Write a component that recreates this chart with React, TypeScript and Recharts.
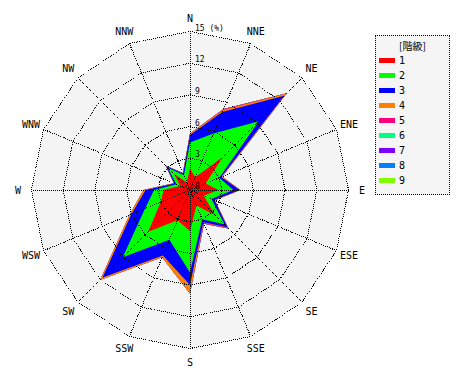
import { Legend, PolarAngleAxis, PolarGrid, PolarRadiusAxis, Radar, RadarChart } from "recharts";

// 16 wind directions, clockwise from north
const directions = ["N", "NNE", "NE", "ENE", "E", "ESE", "SE", "SSE", "S", "SSW", "SW", "WSW", "W", "WNW", "NW", "NNW"];

// frequency (%) per class and direction
const class1 = [2.0, 1.3, 4.4, 1.6, 2.7, 1.4, 3.4, 1.6, 3.9, 3.1, 5.6, 3.0, 2.5, 1.0, 2.1, 0.8];
const class2 = [2.5, 4.5, 4.8, 1.4, 1.4, 0.8, 1.2, 1.4, 3.9, 2.0, 3.4, 1.6, 0.9, 0.4, 0.9, 0.7];
const class3 = [0.7, 2.2, 3.4, 0.2, 0.6, 0.3, 0.4, 0.3, 1.2, 1.6, 2.7, 1.4, 0.8, 0.2, 0.2, 0.2];
const class4 = [0.15, 0.2, 0.3, 0.1, 0.05, 0.05, 0.05, 0.05, 0.8, 0.2, 0.3, 0.2, 0.2, 0.05, 0.05, 0.05];
const class5 = [0, 0.1, 0.05, 0, 0, 0, 0.1, 0.1, 0, 0, 0, 0, 0, 0, 0, 0];
const class6 = [0, 0, 0, 0, 0, 0, 0, 0, 0, 0, 0, 0, 0, 0, 0, 0];
const class7 = [0, 0, 0, 0, 0, 0, 0, 0, 0, 0, 0, 0, 0, 0, 0, 0];
const class8 = [0, 0, 0, 0, 0, 0, 0, 0, 0, 0, 0, 0, 0, 0, 0, 0];
const class9 = [0, 0, 0, 0, 0, 0, 0, 0, 0, 0, 0, 0, 0, 0, 0, 0];

const classLabels = ["1", "2", "3", "4", "5", "6", "7", "8", "9"];
const radiusTicks = [0, 3, 6, 9, 12, 15];

const classValues = [class1, class2, class3, class4, class5, class6, class7, class8, class9];
const classColors = ["#ff0000", "#00ff00", "#0000ff", "#ff8000", "#ff0080", "#00ff80", "#8000ff", "#0080ff", "#80ff00"];

const maxValue = radiusTicks[radiusTicks.length - 1];

// cumulative (stacked) rose
const data = directions.map((dir, i) => {
  const row: Record<string, string | number> = { dir, bg: maxValue };
  let sum = 0;
  classValues.forEach((vals, k) => {
    sum += vals[i];
    row["c" + (k + 1)] = +sum.toFixed(2);
  });
  return row;
});

const labelFont = "'DejaVu Sans Mono', 'Liberation Mono', monospace";
const W = 470;
const H = 380;
const CX = 190;
const CY = 190;
const R = 158.5;

function AngleTick(props: any) {
  const { cx, cy, radius, payload } = props;
  const rad = (-payload.coordinate * Math.PI) / 180;
  const r = radius + 13.5;
  const x = cx + r * Math.cos(rad);
  const y = cy + r * Math.sin(rad);
  return (
    <text x={x} y={y} textAnchor="middle" dominantBaseline="central" fontFamily={labelFont} fontSize={10} fill="#000">
      {payload.value}
    </text>
  );
}

function RadiusTick(props: any) {
  const { x, y, payload } = props;
  const text = payload.value === maxValue ? `${payload.value} (%)` : String(payload.value);
  return (
    <text x={x + 5} y={y - 1} fontFamily={labelFont} fontSize={8} fill="#000">
      {text}
    </text>
  );
}

function ClassLegend() {
  return (
    <div
      style={{
        width: 73,
        height: 158,
        border: "1px dotted #000",
        background: "#f5f5f5",
        fontFamily: labelFont,
        fontSize: 10,
        color: "#000",
        position: "relative",
      }}
    >
      <div style={{ position: "absolute", top: 2, left: 0, width: 73, textAlign: "center", fontFamily: "'Noto Sans CJK JP'", fontSize: 10 }}>
        [階級]
      </div>
      {classLabels.map((label, i) => (
        <div key={label} style={{ position: "absolute", left: 3, top: 17 + i * 15, height: 14, display: "flex", alignItems: "center" }}>
          <span style={{ display: "inline-block", width: 16, height: 5, background: classColors[i], marginRight: 4 }} />
          <span>{label}</span>
        </div>
      ))}
    </div>
  );
}

export default function App() {
  return (
    <div style={{ position: "absolute", left: 0, top: 0, width: W, height: H, background: "#fff" }}>
      <RadarChart width={W} height={H} data={data} cx={CX} cy={CY} outerRadius={R} margin={{ top: 0, right: 0, bottom: 0, left: 0 }}>
        <Radar dataKey="bg" stroke="none" fill="#f4f4f4" fillOpacity={1} isAnimationActive={false} legendType="none" />
        {classValues
          .map((_, k) => k)
          .reverse()
          .map((k) => (
            <Radar
              key={k}
              name={classLabels[k]}
              dataKey={"c" + (k + 1)}
              stroke="none"
              fill={classColors[k]}
              fillOpacity={1}
              isAnimationActive={false}
            />
          ))}
        <PolarAngleAxis dataKey="dir" tick={AngleTick} tickLine={false} axisLine={false} />
        <PolarRadiusAxis angle={90} domain={[0, maxValue]} ticks={radiusTicks} tickCount={radiusTicks.length} axisLine={false} tick={false} />
        <Legend content={ClassLegend} layout="vertical" verticalAlign="top" align="right" wrapperStyle={{ left: 375, top: 35, width: 75 }} />
      </RadarChart>
      {/* dotted grid and radius labels lie over the rose */}
      <div style={{ position: "absolute", left: 0, top: 0, pointerEvents: "none" }}>
        <RadarChart width={W} height={H} data={data} cx={CX} cy={CY} outerRadius={R} margin={{ top: 0, right: 0, bottom: 0, left: 0 }}>
          <Radar dataKey="bg" stroke="none" fill="none" fillOpacity={0} isAnimationActive={false} legendType="none" />
          <PolarGrid gridType="polygon" stroke="#000" strokeDasharray="1 1" strokeOpacity={1} shapeRendering="crispEdges" />
          <PolarAngleAxis dataKey="dir" tick={false} tickLine={false} axisLine={false} />
          <PolarRadiusAxis
            angle={90}
            domain={[0, maxValue]}
            ticks={radiusTicks}
            tickCount={radiusTicks.length}
            axisLine={false}
            tickLine={false}
            tick={RadiusTick}
          />
        </RadarChart>
      </div>
    </div>
  );
}
